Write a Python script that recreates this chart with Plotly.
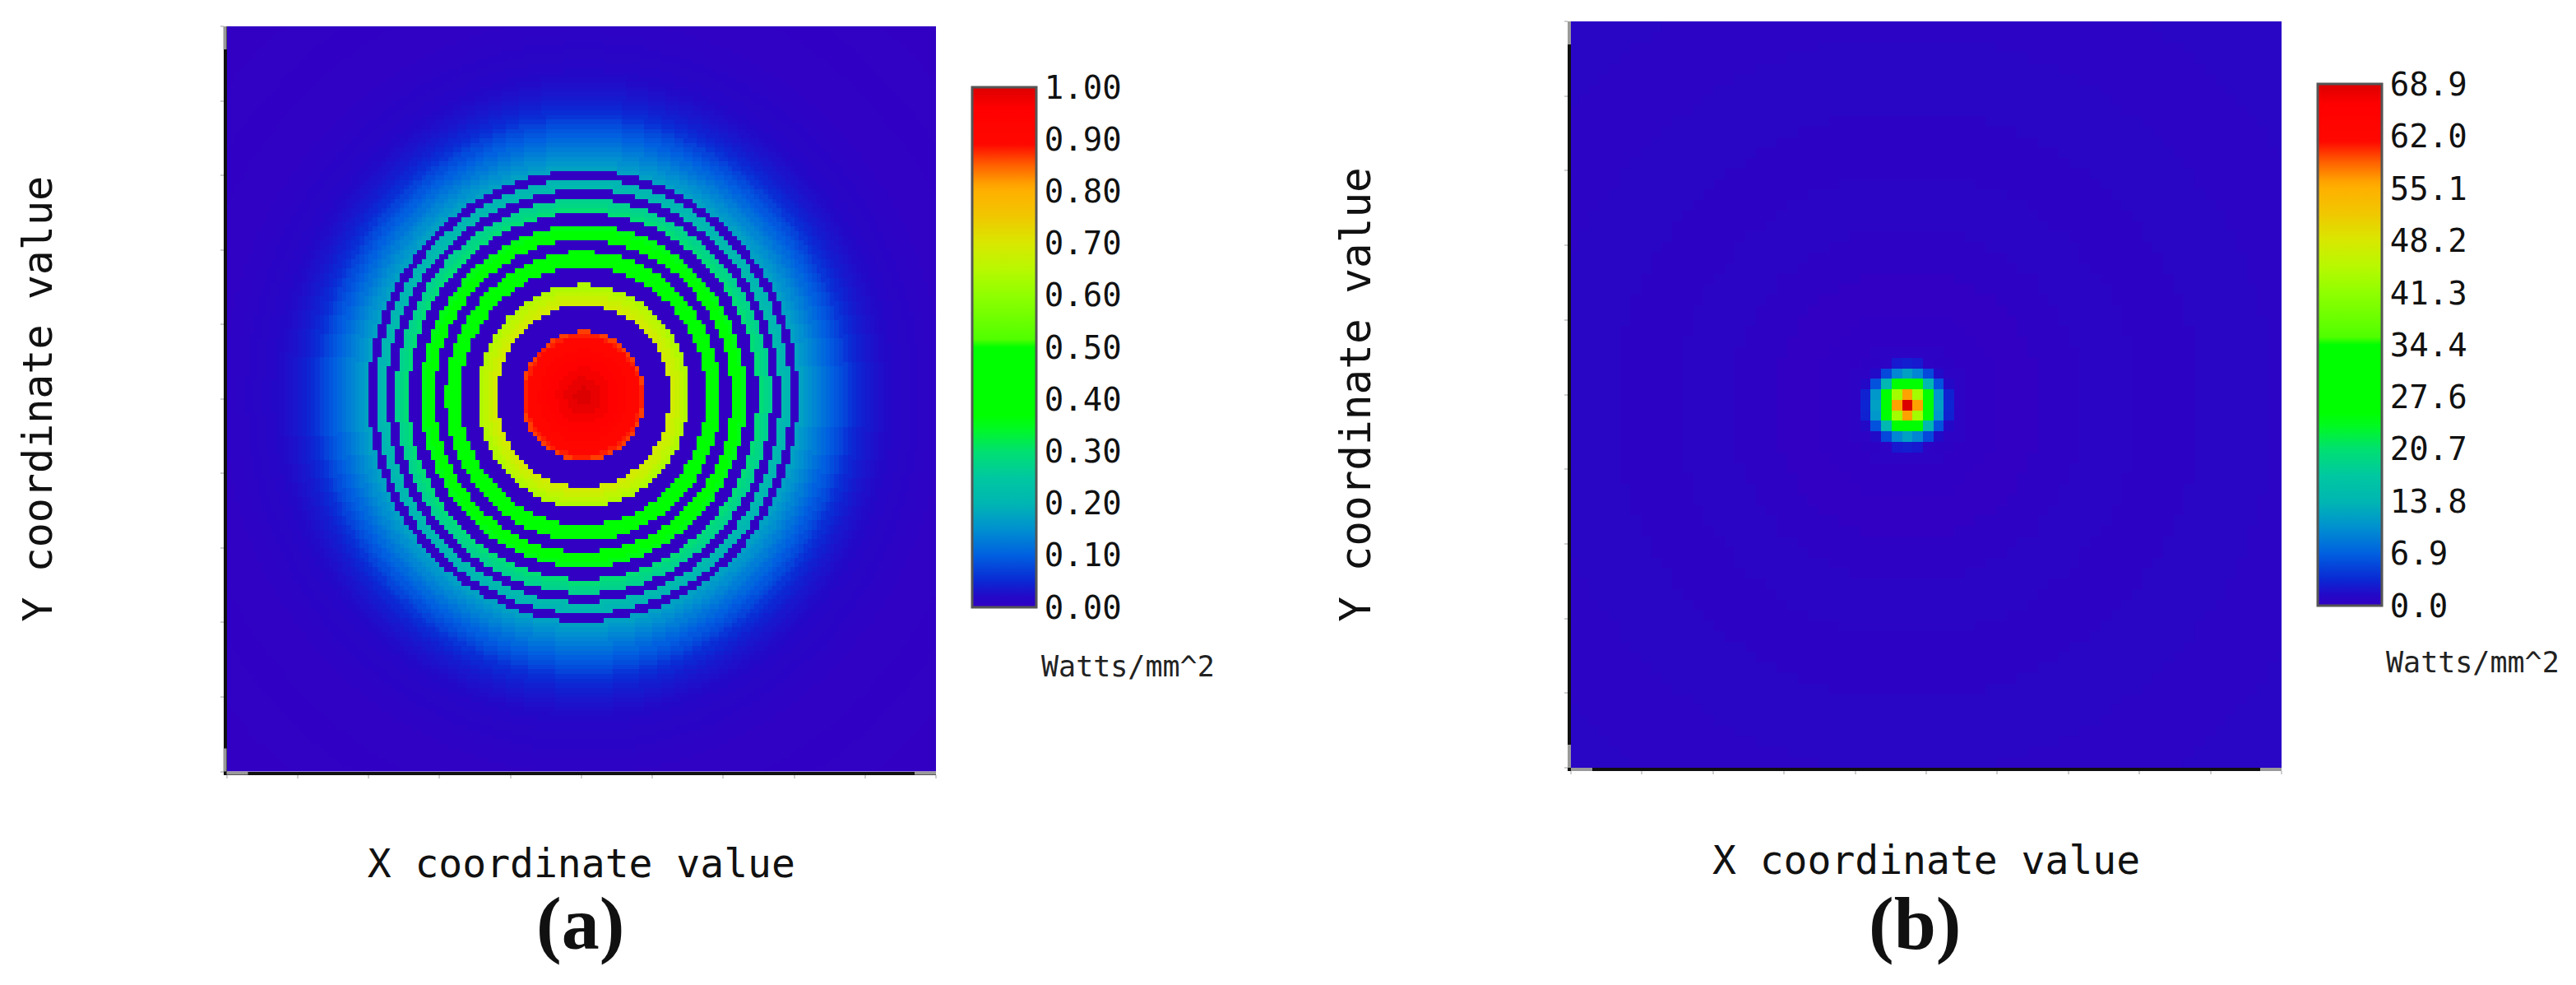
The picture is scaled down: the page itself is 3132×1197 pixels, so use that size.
import numpy as np
import plotly.graph_objects as go

W, H = 3132, 1197

# ---- colour scale (fraction, colour)
scale_stops = [0.0, 0.02, 0.05, 0.10, 0.15, 0.20, 0.25, 0.30, 0.345, 0.37, 0.50, 0.515,
               0.60, 0.65, 0.70, 0.75, 0.80, 0.815, 0.85, 0.89, 0.96, 1.0]
scale_colors = ["#3200c3", "#2408c8", "#0a28d4", "#0060e0", "#0090d0", "#00b6b2", "#00c8a0",
                "#00e070", "#00fa20", "#00ff00", "#00ff00", "#50ff00", "#90ff00", "#b8f800",
                "#d8e800", "#f0c800", "#ffb000", "#ffa000", "#ff6000", "#ff0800", "#ff0000", "#dc0000"]

# ---- panel (a): radial profile, outer radius of each step (in grid cells) and its level
profile_a_r = [2, 4, 6, 8, 10, 11.5, 12.7, 13.3, 13.9,
               19.5,
               20.6, 21.7, 22.8, 23.9,
               27.6,
               28.7, 29.8, 31.0,
               33.4,
               34.5, 35.6, 36.7,
               39.3,
               40.3, 41.3, 42.3,
               44.3,
               45.4, 46.6,
               48.4,
               49.5, 50.5, 51.5, 52.5, 53.5, 54.5, 55.5, 56.5, 57.5, 58.5, 59.5, 60.5, 61.5, 62.5,
               63.5, 64.5, 65.5, 66.5, 67.5, 68.5, 70, 72, 74, 76, 78, 81, 85, 90, 96, 104, 130]
profile_a_v = [1.00, 0.985, 0.97, 0.95, 0.93, 0.91, 0.895, 0.88, 0.865,
               0.0,
               0.69, 0.675, 0.66, 0.64,
               0.0,
               0.47, 0.45, 0.43,
               0.0,
               0.39, 0.37, 0.355,
               0.0,
               0.295, 0.28, 0.27,
               0.0,
               0.215, 0.20,
               0.0,
               0.172, 0.16, 0.15, 0.14, 0.13, 0.12, 0.11, 0.10, 0.092, 0.083, 0.074, 0.062,
               0.054, 0.047, 0.042, 0.037, 0.033, 0.029, 0.026, 0.023, 0.02, 0.016, 0.013, 0.011,
               0.009, 0.007, 0.005, 0.004, 0.003, 0.002, 0.001]
ticks_a_labels = ["0.00", "0.10", "0.20", "0.30", "0.40", "0.50", "0.60", "0.70", "0.80", "0.90", "1.00"]
ticks_a_values = [0.0, 0.1, 0.2, 0.3, 0.4, 0.5, 0.6, 0.7, 0.8, 0.9, 1.0]

# ---- panel (b): focal spot cells around the peak (W/mm^2), then faint background
spot_b = [
    [0.4, 0.4, 0.5, 2.5, 2.8, 2.5, 0.5, 0.4, 0.4],
    [0.5, 1.5, 5.5, 9.6, 11.7, 9.6, 5.5, 1.5, 0.5],
    [1.4, 6.0, 14.0, 29.0, 30.0, 29.0, 14.0, 6.0, 1.4],
    [3.0, 11.0, 29.0, 43.0, 56.0, 43.0, 29.0, 11.0, 3.0],
    [3.2, 11.7, 30.0, 56.0, 68.9, 56.0, 30.0, 11.7, 3.2],
    [3.0, 11.0, 29.0, 43.0, 56.0, 43.0, 29.0, 11.0, 3.0],
    [1.4, 6.0, 14.0, 29.0, 30.0, 29.0, 14.0, 6.0, 1.4],
    [0.5, 1.5, 5.5, 9.6, 11.7, 9.6, 5.5, 1.5, 0.5],
    [0.4, 0.4, 0.5, 2.5, 2.8, 2.5, 0.5, 0.4, 0.4],
]
background_b_r = [6, 9, 13, 17, 22, 28, 35, 43, 52, 70]
background_b_v = [0.5, 0.15, 0.05, 0.4, 0.8, 0.6, 0.9, 0.7, 0.9, 0.5]
ticks_b_labels = ["0.0", "6.9", "13.8", "20.7", "27.6", "34.4", "41.3", "48.2", "55.1", "62.0", "68.9"]
ticks_b_values = [0.0, 6.9, 13.8, 20.7, 27.6, 34.4, 41.3, 48.2, 55.1, 62.0, 68.9]

# ---- axis tick positions (grid cells)
axis_ticks_a = [0, 16, 32, 48, 64, 80, 96, 112, 128, 144, 160]
axis_ticks_bx = [0.3, 7.1, 13.9, 20.7, 27.5, 34.3, 41.1, 47.9, 54.7, 61.5, 68.3]
axis_ticks_by = [0, 7.1, 14.2, 21.3, 28.4, 35.5, 42.6, 49.7, 56.8, 63.9, 71]

X_TITLE = "X coordinate value"
Y_TITLE = "Y coordinate value"
UNIT = "Watts/mm^2"
MONO = "DejaVu Sans Mono"


def px(x):
    return x / W


def py(y):
    return 1 - y / H


# grid for (a)
n_a = 160
cx_a, cy_a = 80.4, 80.65
ax_x = np.arange(n_a) + 0.5
ax_y = np.arange(n_a) + 0.5
xx, yy = np.meshgrid(ax_x, ax_y)
ra = np.hypot(xx - cx_a, yy - cy_a)
idx = np.searchsorted(profile_a_r, ra, side="right")
z_a = np.array(profile_a_v)[np.clip(idx, 0, len(profile_a_v) - 1)]

# grid for (b)
nx_b, ny_b = 70, 71
px_b, py_b = 32, 34  # peak cell
bx = np.arange(nx_b) + 0.5
by = np.arange(ny_b) + 0.5
xx, yy = np.meshgrid(np.arange(nx_b), np.arange(ny_b))
rb = np.hypot(xx - px_b, yy - py_b)
idx = np.searchsorted(background_b_r, rb, side="right")
z_b = np.array(background_b_v)[np.clip(idx, 0, len(background_b_v) - 1)]
z_b[py_b - 4:py_b + 5, px_b - 4:px_b + 5] = np.array(spot_b)

colorscale = [[s, c] for s, c in zip(scale_stops, scale_colors)]


def cbar(x, top, bottom, vals, texts):
    return dict(
        x=px(x), xanchor="left", xref="paper",
        y=py(top), yanchor="top", yref="paper",
        len=bottom - top, lenmode="pixels",
        thickness=78, thicknessmode="pixels",
        outlinecolor="#555555", outlinewidth=3, borderwidth=0,
        tickmode="array", tickvals=vals, ticktext=texts,
        ticks="", ticklen=0, tickfont=dict(family=MONO, size=39, color="#111111"),
        xpad=0, ypad=0,
    )


fig = go.Figure()
fig.add_trace(go.Heatmap(x=ax_x, y=ax_y, z=z_a, zmin=0, zmax=1, colorscale=colorscale,
                         zsmooth=False, xaxis="x", yaxis="y",
                         colorbar=cbar(1182, 106, 738, ticks_a_values, ticks_a_labels)))
fig.add_trace(go.Heatmap(x=bx, y=by, z=z_b, zmin=0, zmax=68.9, colorscale=colorscale,
                         zsmooth=False, xaxis="x2", yaxis="y2",
                         colorbar=cbar(2818, 102, 736, ticks_b_values, ticks_b_labels)))


def axis(domain, rng, ticks, title, size, standoff):
    return dict(domain=domain, range=rng, tickmode="array", tickvals=ticks, showticklabels=False,
                ticks="outside", ticklen=4, tickwidth=2, tickcolor="#cfcfcf",
                showline=True, linecolor="#101010", linewidth=4, showgrid=False, zeroline=False,
                automargin=False,
                title=dict(text=title, font=dict(family=MONO, size=size, color="#111111"),
                           standoff=standoff))


strip = "#9a9a9a"
shapes = []
for (l, r, t, b) in [(275.5, 1138, 32, 937.5), (1910, 2774, 26, 933)]:
    for (x0, x1, y0, y1) in [(l - 4, l, t, t + 28), (l - 4, l, b - 28, b),
                             (l, l + 26, b, b + 4), (r - 26, r, b, b + 4)]:
        shapes.append(dict(type="rect", xref="paper", yref="paper", x0=px(x0), x1=px(x1),
                           y0=py(y0), y1=py(y1), fillcolor=strip, line_width=0))

annotations = []
for x, y, s in [(1371, 810, UNIT), (3006, 805, UNIT)]:
    annotations.append(dict(text=s, x=px(x), y=py(y), xref="paper", yref="paper", showarrow=False,
                            xanchor="center", yanchor="middle",
                            font=dict(family=MONO, size=35, color="#222222")))
for x, y, s in [(705, 1122, "(a)"), (2328, 1122, "(b)")]:
    annotations.append(dict(text="<b>%s</b>" % s, x=px(x), y=py(y), xref="paper", yref="paper",
                            showarrow=False, xanchor="center", yanchor="middle",
                            font=dict(family="Liberation Serif", size=92, color="#111111")))

fig.update_layout(
    width=W, height=H, autosize=False,
    margin=dict(l=0, r=0, t=0, b=0),
    paper_bgcolor="white", plot_bgcolor="white", showlegend=False,
    shapes=shapes, annotations=annotations,
    xaxis=axis([px(275.5), px(1138)], [0, 160], axis_ticks_a, X_TITLE, 48, 89),
    yaxis=axis([py(937.5), py(32)], [0, 160], axis_ticks_a, Y_TITLE, 50, 189),
    xaxis2=axis([px(1910), px(2774)], [0.3, 68.3], axis_ticks_bx, X_TITLE, 48, 89),
    yaxis2=axis([py(933), py(26)], [0, 71], axis_ticks_by, Y_TITLE, 51, 220),
)
fig.update_layout(xaxis2=dict(anchor="y2"), yaxis2=dict(anchor="x2"))

fig.write_html("out.html", config={"displayModeBar": False},
               post_script="document.body.style.margin='0';document.body.style.overflow='hidden';")
